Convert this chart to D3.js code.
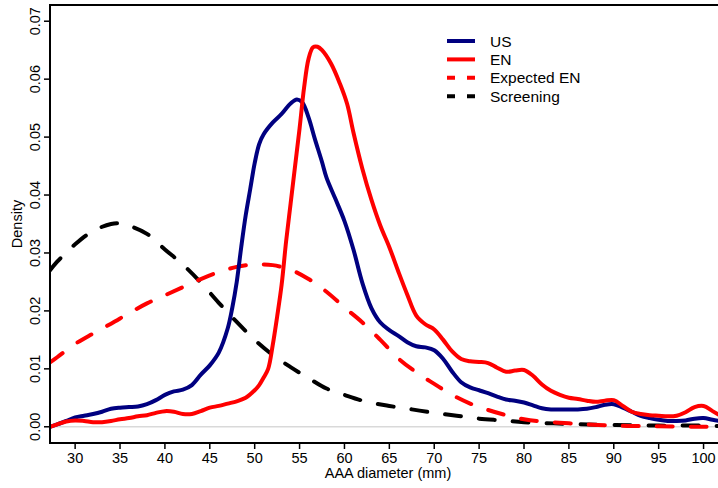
<!DOCTYPE html>
<html>
<head>
<meta charset="utf-8">
<script src="https://cdn.jsdelivr.net/npm/d3@7"></script>
<style>
  body { margin: 0; background: #fff; }
  svg text { font-family: "Liberation Sans", Arial, sans-serif; fill: #000; }
</style>
</head>
<body>
<div id="chart"></div>
<script>
// AAA diameter (mm) grid and density per series
let xUS = [27.2, 28, 29, 30, 31, 32, 33, 34, 35, 36, 37, 38, 39, 40, 41, 42, 43, 44, 45, 46, 47, 47.5, 48, 48.5, 49, 49.5, 50, 50.5, 51, 52, 53, 54, 54.7, 55.3, 56, 56.7, 57.5, 58, 59, 60, 61, 62, 63, 64, 65, 66, 67, 68, 69, 70, 71, 72, 73, 74, 75, 76, 77, 78, 79, 80, 81, 82, 83, 84, 85, 86, 87, 88, 89, 90, 91, 92, 93, 94, 95, 96, 97, 98, 99, 100, 101, 102.5];
let yUS = [0, 0.0004, 0.0010, 0.0016, 0.0019, 0.0022, 0.0026, 0.0031, 0.0033, 0.0034, 0.0035, 0.0039, 0.0046, 0.0055, 0.0061, 0.0064, 0.0072, 0.0090, 0.0106, 0.0128, 0.0170, 0.0205, 0.0250, 0.0310, 0.0365, 0.0410, 0.0455, 0.0488, 0.0505, 0.0525, 0.0540, 0.0558, 0.0565, 0.0560, 0.0534, 0.0497, 0.0457, 0.0430, 0.0393, 0.0355, 0.0306, 0.0248, 0.0205, 0.0180, 0.0167, 0.0157, 0.0146, 0.0139, 0.0137, 0.0132, 0.0117, 0.0095, 0.0077, 0.0068, 0.0063, 0.0058, 0.0052, 0.0047, 0.0045, 0.0042, 0.0037, 0.0032, 0.0030, 0.0030, 0.0030, 0.0030, 0.0031, 0.0034, 0.0038, 0.0039, 0.0033, 0.0026, 0.0019, 0.0015, 0.0012, 0.0010, 0.0010, 0.0011, 0.0014, 0.0015, 0.0012, 0.0008];

let xEN = [27.2, 28, 29, 30, 31, 32, 33, 34, 35, 36, 37, 38, 39, 40, 41, 42, 43, 44, 45, 46, 47, 48, 49, 50, 50.5, 51, 51.5, 52, 52.5, 53, 53.5, 54, 54.5, 55, 55.5, 56, 56.5, 57, 57.5, 58.5, 59.5, 60.3, 61, 62, 63, 64, 65, 66, 67, 68, 69, 70, 71, 72, 73, 74, 75, 76, 77, 78, 79, 80, 81, 82, 83, 84, 85, 86, 87, 88, 89, 90, 91, 92, 93, 94, 95, 96, 97, 98, 99, 100, 101, 102.5];
let yEN = [0, 0.0004, 0.0009, 0.0011, 0.0010, 0.0008, 0.0008, 0.0010, 0.0013, 0.0015, 0.0018, 0.0020, 0.0024, 0.0027, 0.0026, 0.0022, 0.0022, 0.0027, 0.0033, 0.0036, 0.0040, 0.0044, 0.0050, 0.0063, 0.0072, 0.0085, 0.0100, 0.0140, 0.0190, 0.0245, 0.0320, 0.0385, 0.0450, 0.0515, 0.0585, 0.0635, 0.0655, 0.0656, 0.0650, 0.0627, 0.0592, 0.0557, 0.0508, 0.0445, 0.0392, 0.0347, 0.0310, 0.0268, 0.0228, 0.0192, 0.0177, 0.0168, 0.0150, 0.0130, 0.0117, 0.0113, 0.0112, 0.0110, 0.0102, 0.0095, 0.0097, 0.0098, 0.0088, 0.0073, 0.0062, 0.0055, 0.0050, 0.0048, 0.0045, 0.0043, 0.0045, 0.0046, 0.0036, 0.0026, 0.0022, 0.0020, 0.0019, 0.0018, 0.0019, 0.0025, 0.0034, 0.0036, 0.0027, 0.0014];

let xExp = [27.2, 28, 30, 32, 34, 36, 38, 40, 42, 44, 46, 48, 50, 52, 54, 56, 58, 60, 62, 64, 66, 68, 70, 72, 74, 76, 78, 80, 82, 85, 90, 95, 100, 102.5];
let yExp = [0.0111, 0.0120, 0.0143, 0.0161, 0.0178, 0.0196, 0.0213, 0.0227, 0.0241, 0.0255, 0.0267, 0.0276, 0.0280, 0.0279, 0.0271, 0.0255, 0.0233, 0.0206, 0.0180, 0.0150, 0.0118, 0.0094, 0.0074, 0.0055, 0.0040, 0.0029, 0.0020, 0.0013, 0.0009, 0.0006, 0.0002, 0.0001, 0, 0];

let xScr = [27.2, 28, 30, 32, 34, 35, 36, 38, 40, 42, 44, 46, 48, 50, 52, 54, 56, 58, 60, 62.5, 65, 67.5, 70, 72.5, 75, 77.5, 80, 85, 90, 95, 100, 102.5];
let yScr = [0.0270, 0.0285, 0.0315, 0.0338, 0.0350, 0.0351, 0.0347, 0.0333, 0.0306, 0.0280, 0.0249, 0.0214, 0.0181, 0.0150, 0.0124, 0.0103, 0.0084, 0.0066, 0.0055, 0.0043, 0.0036, 0.0030, 0.0024, 0.0019, 0.0014, 0.0011, 0.0008, 0.0005, 0.0003, 0.0002, 0.0002, 0.0001];

let xTicks = d3.range(30, 101, 5);
let yTicks = [0, 0.01, 0.02, 0.03, 0.04, 0.05, 0.06, 0.07];

let seriesNames = ["US", "EN", "Expected EN", "Screening"];
let seriesColors = ["#000080", "#ff0000", "#ff0000", "#000000"];
let seriesDashed = [false, false, true, true];

let width = 718, height = 488;
let mLeft = 50, mRight = 726, mTop = 5, mBottom = 443;

let x = d3.scaleLinear().domain([27.2, 102.5]).range([mLeft, mRight]);
let y = d3.scaleLinear().domain([-0.0028, 0.0728]).range([mBottom, mTop]);

let svg = d3.select("#chart").append("svg").attr("width", width).attr("height", height);

svg.append("defs").append("clipPath").attr("id", "plotClip")
    .append("rect").attr("x", mLeft).attr("y", mTop).attr("width", mRight - mLeft).attr("height", mBottom - mTop);

// zero line
svg.append("line").attr("x1", mLeft).attr("x2", mRight).attr("y1", y(0)).attr("y2", y(0))
    .attr("stroke", "#d9d9d9").attr("stroke-width", 1.5);

let lineGen = d3.line().x(d => x(d[0])).y(d => y(d[1])).curve(d3.curveCatmullRom.alpha(0.5));
let allSeries = [[xUS, yUS], [xEN, yEN], [xExp, yExp], [xScr, yScr]];
// dashed first, solid lines on top
let plotGroup = svg.append("g").attr("clip-path", "url(#plotClip)");
[3, 2, 0, 1].forEach(i => {
    let pts = allSeries[i][0].map((v, k) => [v, allSeries[i][1][k]]);
    plotGroup.append("path").datum(pts)
        .attr("d", lineGen)
        .attr("fill", "none")
        .attr("stroke", seriesColors[i])
        .attr("stroke-width", 4)
        .attr("stroke-linecap", "round")
        .attr("stroke-linejoin", "round")
        .attr("stroke-dasharray", seriesDashed[i] ? "16,18" : null);
});

// box
svg.append("rect").attr("x", mLeft).attr("y", mTop).attr("width", mRight - mLeft).attr("height", mBottom - mTop)
    .attr("fill", "none").attr("stroke", "#000").attr("stroke-width", 2);

// x axis
let xAxis = svg.append("g").attr("transform", `translate(0, ${mBottom})`);
xAxis.selectAll("line").data(xTicks).enter().append("line")
    .attr("x1", d => x(d)).attr("x2", d => x(d)).attr("y1", 0).attr("y2", 6)
    .attr("stroke", "#000").attr("stroke-width", 1.5);
xAxis.selectAll("text").data(xTicks).enter().append("text")
    .attr("x", d => x(d)).attr("y", 19.5).attr("text-anchor", "middle")
    .style("font-size", "14.5px").text(d => d);

// y axis
let yAxis = svg.append("g").attr("transform", `translate(${mLeft}, 0)`);
yAxis.selectAll("line").data(yTicks).enter().append("line")
    .attr("x1", -6).attr("x2", 0).attr("y1", d => y(d)).attr("y2", d => y(d))
    .attr("stroke", "#000").attr("stroke-width", 1.5);
yAxis.selectAll("text").data(yTicks).enter().append("text")
    .attr("transform", d => `translate(-10, ${y(d)}) rotate(-90)`)
    .attr("text-anchor", "middle").style("font-size", "14.5px")
    .text(d => d3.format(".2f")(d));

svg.append("text").attr("transform", `translate(22, ${(mTop + mBottom) / 2}) rotate(-90)`)
    .attr("text-anchor", "middle").style("font-size", "14.5px").text("Density");
svg.append("text").attr("x", (mLeft + mRight) / 2).attr("y", 478)
    .attr("text-anchor", "middle").style("font-size", "14.5px").text("AAA diameter (mm)");

// legend
let legend = svg.append("g").attr("transform", "translate(447, 41)");
seriesNames.forEach((name, i) => {
    let row = legend.append("g").attr("transform", `translate(0, ${i * 18.4})`);
    row.append("line").attr("x1", 0).attr("x2", 28).attr("y1", 0).attr("y2", 0)
        .attr("stroke", seriesColors[i]).attr("stroke-width", 4)
        .attr("stroke-dasharray", seriesDashed[i] ? "8,12" : null);
    row.append("text").attr("x", 43).attr("y", 5.5).style("font-size", "15.5px").text(name);
});
</script>
</body>
</html>
